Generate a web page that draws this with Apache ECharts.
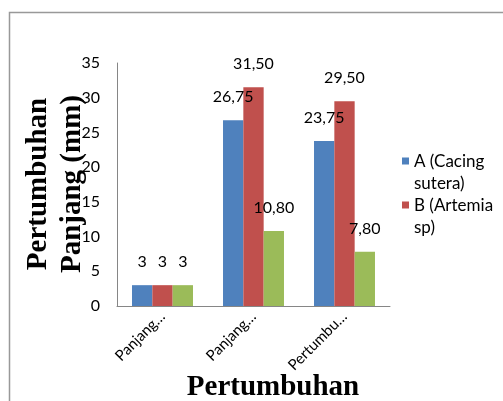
<!DOCTYPE html>
<html>
<head>
<meta charset="utf-8">
<script src="https://cdn.jsdelivr.net/npm/echarts@6/dist/echarts.min.js"></script>
<style>html,body{margin:0;padding:0;background:#fff}#c{width:503px;height:401px}</style>
</head>
<body>
<div id="c"></div>
<script>
var categories = ['Panjang…', 'Panjang…', 'Pertumbu…'];
var seriesNames = ['A (Cacing sutera)', 'B (Artemia sp)', 'C'];
var seriesA = [3, 26.75, 23.75];
var seriesB = [3, 31.5, 29.5];
var seriesC = [3, 10.8, 7.8];
var yTicks = { min: 0, max: 35, interval: 5 };
var yTitle = 'Pertumbuhan\nPanjang (mm)';
var xTitle = 'Pertumbuhan';

var colors = ['#4F81BD', '#C0504D', '#9BBB59'];
var fmt = function (p) {
  var v = p.value;
  return Number.isInteger(v) ? String(v) : v.toFixed(2).replace('.', ',');
};
var mkSeries = function (name, data, i) {
  return {
    name: name, type: 'bar', data: data,
    itemStyle: { color: colors[i] },
    barGap: '0%', barCategoryGap: '33%',
    label: { show: true, position: 'top', distance: 15, formatter: fmt,
      color: '#000', fontFamily: 'Lato', fontSize: 16 }
  };
};
var chart = echarts.init(document.getElementById('c'));
chart.setOption({
  animation: false,
  grid: { left: 117, right: 113, top: 63, bottom: 95, containLabel: false, outerBoundsMode: 'none' },
  legend: {
    data: [seriesNames[0], seriesNames[1]],
    orient: 'vertical', left: 402, top: 151, padding: 0, itemGap: 0,
    itemWidth: 7, itemHeight: 31,
    icon: 'path://M0,0H7V7H0Z M0,30.99H0.01V31H0Z',
    formatter: function (n) {
      return n === seriesNames[0] ? 'A (Cacing\nsutera)' : 'B (Artemia\nsp)';
    },
    textStyle: { fontFamily: 'Lato', fontSize: 17, color: '#000', lineHeight: 22 }
  },
  xAxis: {
    type: 'category', data: categories,
    axisLine: { lineStyle: { color: '#868686', width: 1 } },
    axisTick: { show: false },
    axisLabel: { rotate: 45, margin: 8, color: '#000', fontFamily: 'Lato', fontSize: 15, interval: 0 }
  },
  yAxis: {
    type: 'value', min: yTicks.min, max: yTicks.max, interval: yTicks.interval,
    splitLine: { show: false },
    axisLine: { show: true, lineStyle: { color: '#868686', width: 1 } },
    axisTick: { show: false },
    axisLabel: { margin: 17, color: '#000', fontFamily: 'Lato', fontSize: 16 }
  },
  graphic: [
    { type: 'rect', shape: { x: 9.5, y: 12.5, width: 700, height: 700 },
      style: { fill: 'none', stroke: '#999', lineWidth: 1.5 }, silent: true },
    { type: 'text', x: 273, y: 388,
      style: { text: xTitle, fontFamily: 'Liberation Serif', fontWeight: 'bold', fontSize: 29,
        fill: '#000', textAlign: 'center', textVerticalAlign: 'middle' } },
    { type: 'text', x: 56, y: 184, rotation: Math.PI / 2,
      style: { text: yTitle, fontFamily: 'Liberation Serif', fontWeight: 'bold', fontSize: 29,
        lineHeight: 34, fill: '#000', textAlign: 'center', textVerticalAlign: 'middle' } }
  ],
  series: [mkSeries(seriesNames[0], seriesA, 0), mkSeries(seriesNames[1], seriesB, 1), mkSeries(seriesNames[2], seriesC, 2)]
});
</script>
</body>
</html>
